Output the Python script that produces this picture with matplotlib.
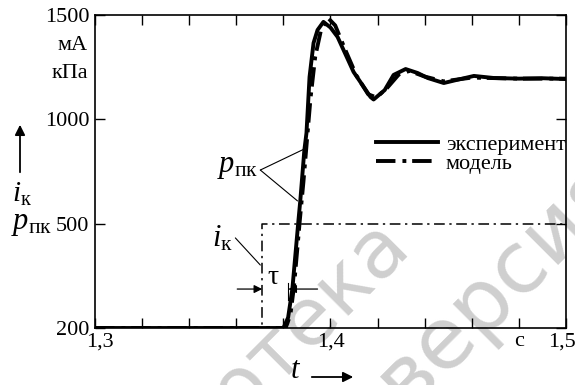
import numpy as np
import matplotlib
matplotlib.use("Agg")
import matplotlib.pyplot as plt
from matplotlib.scale import FuncScale
from matplotlib.transforms import ScaledTranslation
from matplotlib.patches import FancyArrowPatch

plt.rcParams['font.family'] = ['Liberation Serif', 'DejaVu Serif']
plt.rcParams['mathtext.fontset'] = 'custom'
plt.rcParams['mathtext.rm'] = 'Liberation Serif'
plt.rcParams['mathtext.it'] = 'Liberation Serif:italic'

# ---------------- data ----------------
t_exp = [1.300, 1.330, 1.360, 1.380, 1.3820, 1.3838, 1.3864, 1.3872, 1.3889, 1.3898,
         1.3911, 1.3928, 1.3945, 1.3970, 1.4000, 1.4030, 1.4098, 1.4170, 1.4183,
         1.4230, 1.4268, 1.4319, 1.4370, 1.4413, 1.4481, 1.4540, 1.4609, 1.4694,
         1.4800, 1.4900, 1.5000]
p_exp = [200, 200, 200, 200, 230, 312, 517, 614, 853, 935,
         1203, 1366, 1428, 1467, 1440, 1395, 1227, 1107, 1095,
         1140, 1213, 1241, 1222, 1198, 1174, 1190, 1208, 1198,
         1195, 1197, 1193]

t_mod = [1.300, 1.330, 1.360, 1.381, 1.3830, 1.3845, 1.3870, 1.3885, 1.3900, 1.3915,
         1.3935, 1.3960, 1.3990, 1.4020, 1.4060, 1.4110, 1.4160, 1.4195, 1.4240,
         1.4290, 1.4335, 1.4400, 1.4480, 1.4600, 1.4800, 1.5000]
p_mod = [200, 200, 200, 200, 240, 320, 520, 700, 900, 1100,
         1300, 1430, 1485, 1450, 1340, 1210, 1120, 1105, 1150,
         1215, 1232, 1205, 1182, 1200, 1195, 1195]

t_step = [1.300, 1.371, 1.371, 1.500]
i_step = [200, 200, 500, 500]

x_ticks = [1.30, 1.32, 1.34, 1.36, 1.38, 1.40, 1.42, 1.44, 1.46, 1.48, 1.50]
x_labels = ['1,3', '', '', '', '', '1,4', '', '', '', 'с', '1,5']
y_ticks = [200, 500, 1000, 1500]
y_labels = ['200', '500', '1000', '1500']

legend_labels = ['эксперимент', 'модель']

# ---------------- figure ----------------
W, H = 575, 385
fig = plt.figure(figsize=(W / 100, H / 100), dpi=100)
ax = fig.add_axes([95 / W, 1 - 328 / H, (566 - 95) / W, (328 - 15) / H])


def fwd(v):
    v = np.asarray(v, dtype=float)
    return np.where(v >= 500, v, 500 - (500 - v) * 5.0 / 3.0)


def inv(u):
    u = np.asarray(u, dtype=float)
    return np.where(u >= 500, u, 500 - (500 - u) * 0.6)


ax.set_yscale(FuncScale(ax, (fwd, inv)))
ax.set_xlim(1.3, 1.5)
ax.set_ylim(200, 1500)

fs = 16
ax.set_xticks(x_ticks)
ax.set_xticklabels(x_labels, fontsize=fs)
ax.set_yticks(y_ticks)
ax.set_yticklabels(y_labels, fontsize=fs)
ax.minorticks_off()
ax.tick_params(direction='in', length=7, width=1.0, top=True, right=True,
               pad=4, colors='black')
ax.tick_params(axis='x', pad=3)
for s in ax.spines.values():
    s.set_linewidth(1.2)

# nudge end labels like the reference
xl = ax.get_xticklabels()
xl[0].set_transform(xl[0].get_transform() + ScaledTranslation(5 / 100, 0, fig.dpi_scale_trans))
xl[-1].set_transform(xl[-1].get_transform() + ScaledTranslation(-4 / 100, 0, fig.dpi_scale_trans))

# curves
ax.plot(t_step, i_step, color='black', lw=1.1, linestyle=(0, (7, 3, 1.5, 3)), zorder=3)
l1, = ax.plot(t_exp, p_exp, color='black', lw=2.8, solid_joinstyle='round', zorder=4)
l2, = ax.plot(t_mod, p_mod, color='black', lw=2.8,
              linestyle=(0, (5, 1.8, 1.0, 1.5)), dash_capstyle='butt', zorder=5)

leg = ax.legend([l1, l2], legend_labels, loc='upper left', frameon=False,
                bbox_to_anchor=((376 - 95) / (566 - 95), 1 - (134 - 15) / (328 - 15)),
                fontsize=fs, handlelength=2.8, handletextpad=0.35,
                labelspacing=-0.05, borderaxespad=0, borderpad=0)

# tau annotations
arr = dict(arrowstyle='-|>', color='black', lw=0.9, mutation_scale=12,
           shrinkA=0, shrinkB=0)
ax.annotate('', xy=(1.371, 312), xytext=(1.3604, 312), arrowprops=arr)
ax.annotate('', xy=(1.3821, 312), xytext=(1.3945, 312), arrowprops=arr, zorder=2)
ax.plot([1.3821, 1.3821], [280, 330], color='black', lw=0.8)
ax.text(1.3757, 345, 'τ', fontsize=20, ha='center', va='center')

# i_k label with leader line
ln = dict(arrowstyle='-', color='black', lw=0.8, shrinkA=0, shrinkB=0)
ax.annotate('', xy=(1.3702, 381), xytext=(1.3596, 459), arrowprops=ln)
ax.text(1.3540, 458, r'$i_{\mathrm{к}}$', fontsize=22, ha='center', va='center')

# p_pk label with leader lines
ax.annotate('', xy=(1.3889, 858), xytext=(1.3702, 757), arrowprops=ln)
ax.annotate('', xy=(1.3860, 609), xytext=(1.3702, 757), arrowprops=ln)
ax.text(1.3605, 775, r'$p_{\mathrm{пк}}$', fontsize=22, ha='center', va='center')


def px(x, y):
    return x / W, 1 - y / H


# axis units
fig.text(*px(88, 46), 'мА', fontsize=fs, ha='right', va='center')
fig.text(*px(88, 73), 'кПа', fontsize=fs, ha='right', va='center')

# y axis label with arrow
fig.text(*px(22, 194), r'$i_{\mathrm{к}}$', fontsize=21, ha='center', va='center')
fig.text(*px(31, 224), r'$p_{\mathrm{пк}}$', fontsize=22, ha='center', va='center')
fig.add_artist(FancyArrowPatch(
    px(20, 175), px(20, 122), transform=fig.transFigure, arrowstyle='-|>',
    mutation_scale=15, color='black', lw=1.3))

# x axis label with arrow
fig.text(*px(296, 371), r'$t$', fontsize=22, ha='center', va='center')
fig.add_artist(FancyArrowPatch(
    px(309, 377), px(356, 377), transform=fig.transFigure, arrowstyle='-|>',
    mutation_scale=15, color='black', lw=1.3))

# watermark
fig.text(*px(411, 246), 'Библиотека', fontsize=58, color='#cfcfcf',
         family='DejaVu Sans', rotation=45, ha='right', va='baseline',
         rotation_mode='anchor', zorder=0)
fig.text(*px(405, 410), 'версия', fontsize=62, color='#cfcfcf',
         family='DejaVu Sans', rotation=45, ha='left', va='baseline',
         rotation_mode='anchor', zorder=0)
ax.set_facecolor('none')
ax.set_zorder(1)

fig.savefig('out.png', dpi=100)
